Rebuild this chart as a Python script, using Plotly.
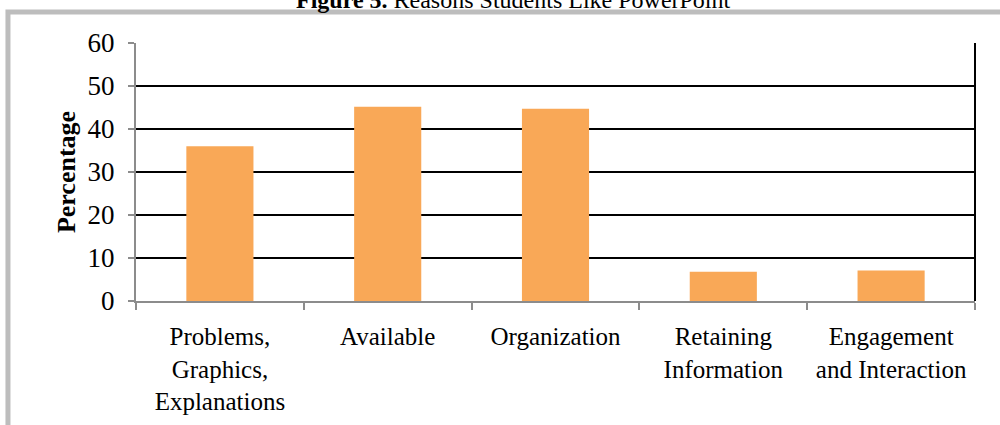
import plotly.graph_objects as go

categories = ['Problems,<br>Graphics,<br>Explanations', 'Available', 'Organization',
              'Retaining<br>Information', 'Engagement<br>and Interaction']
percentages = [36.0, 45.2, 44.7, 6.8, 7.1]
y_ticks = [0, 10, 20, 30, 40, 50, 60]

serif = 'Liberation Serif, Times New Roman, serif'

fig = go.Figure()
fig.add_trace(go.Bar(
    x=categories,
    y=percentages,
    marker=dict(color='#F9A857', line=dict(width=0))
))

fig.update_layout(
    width=1000, height=425,
    margin=dict(l=136, r=25, t=43, b=124, autoexpand=False),
    paper_bgcolor='white', plot_bgcolor='white',
    bargap=0.6,
    showlegend=False,
    font=dict(family=serif, size=25, color='black'),
    xaxis=dict(
        automargin=False,
        showgrid=False,
        showline=True, linecolor='#8c8c8c', linewidth=2,
        ticks='outside', tickson='boundaries', ticklen=7, tickcolor='#8c8c8c', tickwidth=2,
        tickfont=dict(family=serif, size=25, color='black'),
        ticklabelstandoff=12,
    ),
    yaxis=dict(
        automargin=False,
        range=[0, 60], tickvals=y_ticks,
        showgrid=True, gridcolor='black', gridwidth=2,
        zeroline=False,
        showline=True, linecolor='#8c8c8c', linewidth=2,
        ticks='outside', ticklen=6, tickcolor='#8c8c8c', tickwidth=2,
        tickfont=dict(family=serif, size=27, color='black'),
        ticklabelstandoff=8,
        title=dict(text='<b>Percentage</b>', font=dict(family=serif, size=26), standoff=4),
    ),
)

# right border of plot area
fig.add_shape(type='line', xref='paper', yref='paper', x0=1, x1=1, y0=0, y1=1,
              line=dict(color='black', width=2))
# gray frame around the chart (only top and left edges fall inside the page)
fig.add_shape(type='rect', xref='paper', yref='paper', x0=-0.1526, x1=1.1, y0=-0.7, y1=1.12,
              line=dict(color='#bdbdbd', width=5), fillcolor='rgba(0,0,0,0)', layer='below')

fig.add_annotation(
    text='<b>Figure 5.</b> Reasons Students Like PowerPoint',
    xref='paper', yref='paper', x=0.4505, y=1, xanchor='center', yanchor='bottom',
    yshift=28, showarrow=False,
    font=dict(family=serif, size=24, color='black'),
)

fig.write_html('out.html', config={'displayModeBar': False},
               post_script="document.body.style.margin='0';")
